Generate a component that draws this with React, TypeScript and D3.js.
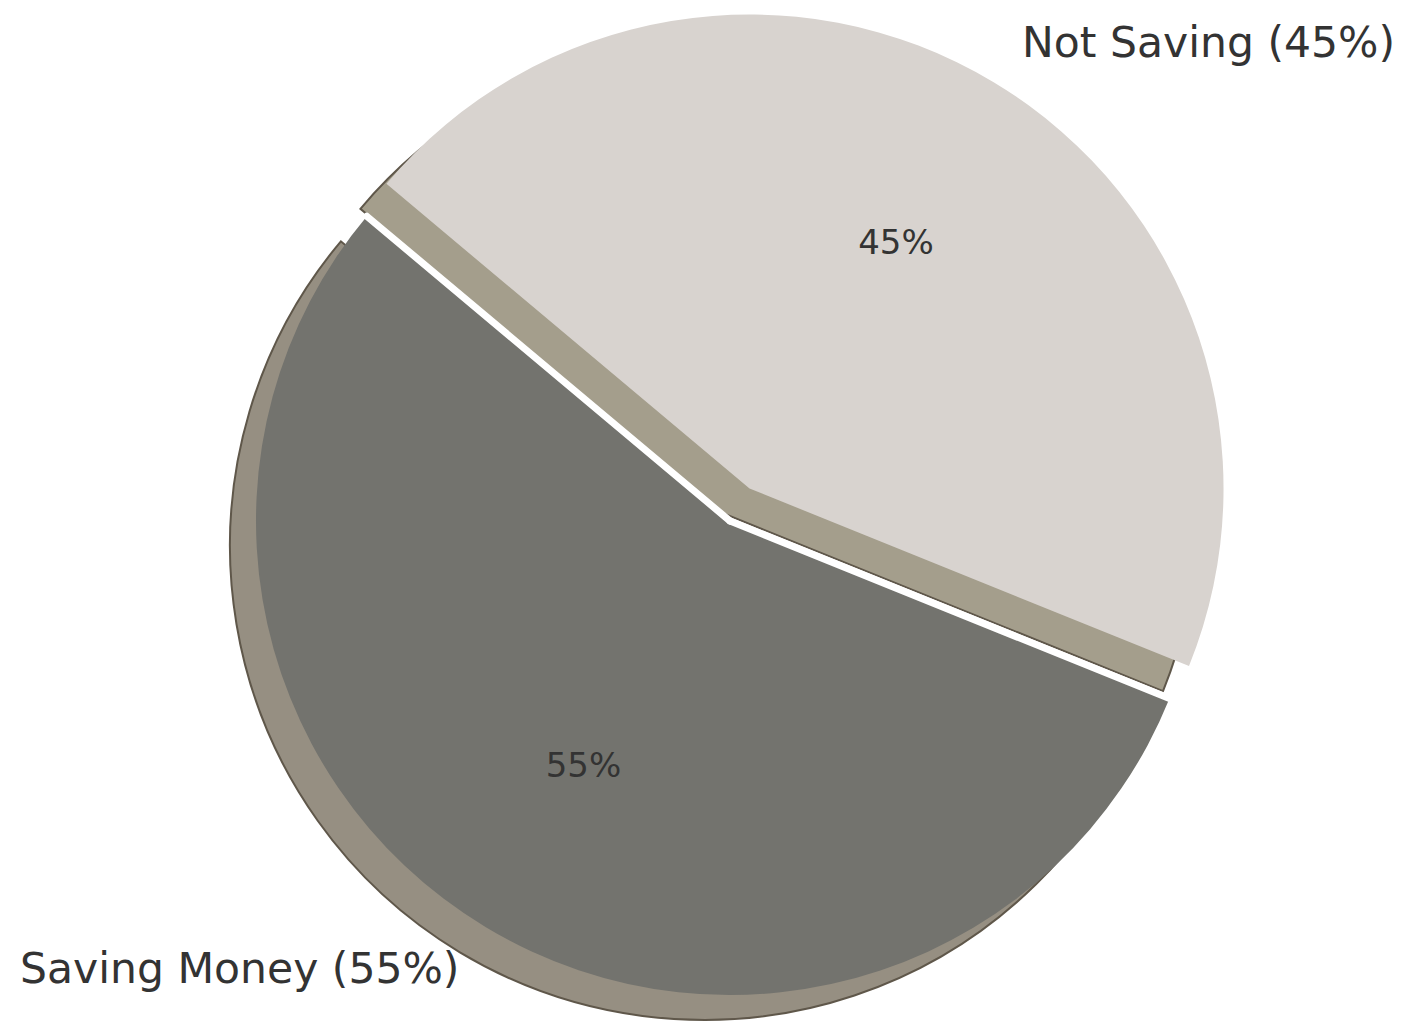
import * as d3 from 'd3'

// pie data
const labels = ['Saving Money', 'Not Saving']
const shares = [55, 45]
const explode = [0, 0.08]
const sliceColors = ['#73736e', '#d8d3cf']
const shadowColors = ['#968f82', '#a49e8c']

const width = 1403
const height = 1029
const cx = 730
const cy = 521
const radius = 474
const shadow = { dx: -26, dy: 25 }

// matplotlib startangle=140, counter-clockwise -> d3 angles (0 at 12 o'clock, clockwise)
const toD3 = (deg: number) => ((90 - deg) * Math.PI) / 180

export default function App() {
  const pie = d3
    .pie<number>()
    .sort(null)
    .value((d) => d)
    .startAngle(toD3(140))
    .endAngle(toD3(140) - 2 * Math.PI)

  const arcs = pie(shares)
  const arc = d3.arc<d3.PieArcDatum<number>>().innerRadius(0).outerRadius(radius)

  const slices = arcs.map((a, i) => {
    const mid = (a.startAngle + a.endAngle) / 2
    const ux = Math.sin(mid)
    const uy = -Math.cos(mid)
    const off = explode[i] * radius
    return {
      a,
      i,
      ux,
      uy,
      ox: cx + ux * off,
      oy: cy + uy * off,
    }
  })

  return (
    <div style={{ position: 'absolute', left: 0, top: 0 }}>
      <svg
        width={width}
        height={height}
        style={{ display: 'block', background: '#fff' }}
        fontFamily="DejaVu Sans, sans-serif"
      >
        {/* shadows */}
        {slices.map((s) => (
          <path
            key={`sh-${s.i}`}
            d={arc(s.a) || ''}
            transform={`translate(${s.ox + shadow.dx},${s.oy + shadow.dy})`}
            fill={shadowColors[s.i]}
            stroke="#5f574a"
            strokeWidth={2}
          />
        ))}

        {/* wedges */}
        {slices.map((s) => (
          <path
            key={`w-${s.i}`}
            d={arc(s.a) || ''}
            transform={`translate(${s.ox},${s.oy})`}
            fill={sliceColors[s.i]}
          />
        ))}

        {/* white edges along the radii of the first wedge */}
        {[slices[0].a.startAngle, slices[0].a.endAngle].map((ang, k) => (
          <line
            key={`e-${k}`}
            x1={cx}
            y1={cy}
            x2={cx + Math.sin(ang) * radius}
            y2={cy - Math.cos(ang) * radius}
            stroke="#ffffff"
            strokeWidth={7}
            strokeLinecap="round"
          />
        ))}

        {/* percent labels */}
        {slices.map((s) => (
          <text
            key={`p-${s.i}`}
            x={s.ox + s.ux * radius * 0.6}
            y={s.oy + s.uy * radius * 0.6 - (s.i === 1 ? 3 : 0)}
            dy="0.36em"
            textAnchor="middle"
            fontSize={34}
            fill="#333333"
          >
            {shares[s.i]}%
          </text>
        ))}

        {/* outer labels */}
        {slices.map((s) => (
          <text
            key={`l-${s.i}`}
            x={s.ox + s.ux * radius * 1.1 + (s.ux < 0 ? -2 : 4)}
            y={s.oy + s.uy * radius * 1.1}
            dy="0.36em"
            textAnchor={s.ux < 0 ? 'end' : 'start'}
            fontSize={42.5}
            fill="#333333"
          >
            {`${labels[s.i]} (${shares[s.i]}%)`}
          </text>
        ))}
      </svg>
    </div>
  )
}
